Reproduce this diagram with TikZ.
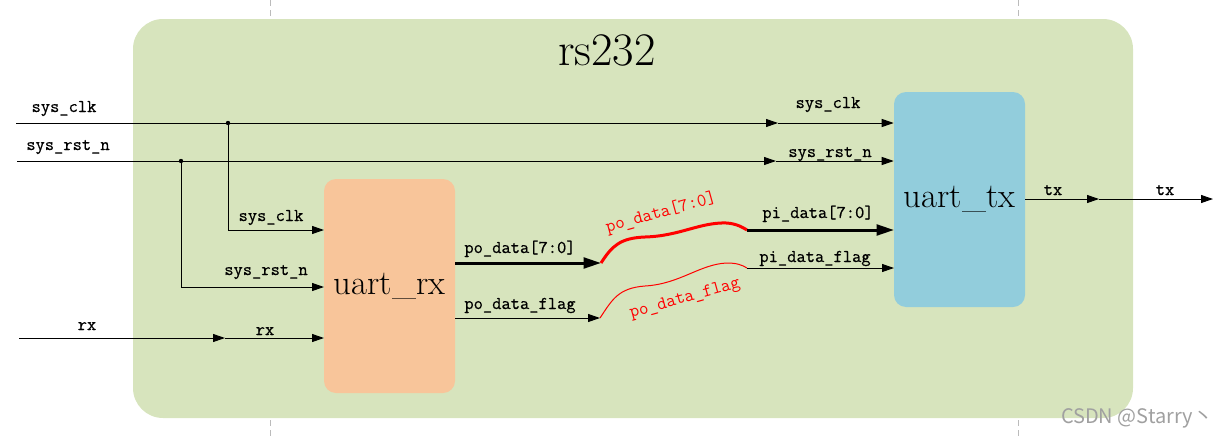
\documentclass[tikz,border=0pt]{standalone}
\usepackage{fontspec}
\usetikzlibrary{arrows.meta}
\newfontfamily\wmfont{Noto Sans CJK SC}
\newfontfamily\labfont{Latin Modern Mono}[RawFeature={embolden=0.6}]
\newfontfamily\rlabfont{Latin Modern Mono}
\definecolor{bggreen}{HTML}{D7E4BD}
\definecolor{rxorange}{HTML}{F8C59A}
\definecolor{txblue}{HTML}{92CDDC}
\definecolor{dashgrey}{HTML}{BBBBBB}
\definecolor{wmgrey}{HTML}{A0A0A0}
\begin{document}
\begin{tikzpicture}[x=0.75pt,y=-0.75pt,
  sig/.style={line width=0.75pt,-{Triangle[length=9pt,width=6pt]}},
  wire/.style={line width=0.75pt},
  bus/.style={line width=2.25pt,-{Triangle[length=13pt,width=8pt]}},
  lab/.style={font=\fontsize{13.5}{14}\selectfont\labfont,anchor=base,inner sep=0pt},
  rlab/.style={font=\fontsize{13.8}{14}\selectfont\rlabfont,inner sep=0pt,text=red,anchor=center},
  module/.style={inner sep=0pt,rounded corners=9pt,minimum width=98.25pt},
  big/.style={font=\fontsize{26}{28}\selectfont}
]
\useasboundingbox (0,0) rectangle (1223,439);
% dashed guide lines
\draw[dashgrey,line width=0.75pt,dash pattern=on 4.5pt off 3pt] (270,0) -- (270,439);
\draw[dashgrey,line width=0.75pt,dash pattern=on 4.5pt off 3pt] (1018,0) -- (1018,439);
% container
\node[fill=bggreen,inner sep=0pt,rounded corners=22.5pt,minimum width=750pt,minimum height=299.25pt] (top) at (633,218.5) {};
\node[font=\fontsize{35}{38}\selectfont] (title) at (607,50) {rs232};
% modules
\node[module,fill=rxorange,minimum height=160.5pt,big] (rx) at (389.5,286) {uart\_rx};
\node[module,fill=txblue,minimum height=161.25pt,big] (tx) at (959.5,199.5) {uart\_tx};
% coordinates
\coordinate (clkin) at (16,123);
\coordinate (clkdot) at (228,123);
\coordinate (clkmid) at (778,123);
\coordinate (rstin) at (17,161);
\coordinate (rstdot) at (181,161);
\coordinate (rstmid) at (776,161);
\coordinate (rxclk) at (324,230);
\coordinate (rxrst) at (324,287);
\coordinate (rxin) at (19,338);
\coordinate (rxmid) at (225,338);
\coordinate (rxrx) at (324,338);
\coordinate (dout) at (455,263);
\coordinate (dA) at (601,263);
\coordinate (dB) at (747,230);
\coordinate (din) at (894,230);
\coordinate (fout) at (455,318);
\coordinate (fA) at (600,318);
\coordinate (fB) at (747,268);
\coordinate (fin) at (894,268);
\coordinate (txo) at (1025,199);
\coordinate (txmid) at (1099,199);
\coordinate (txend) at (1213,199);
% sys_clk
\draw[sig] (clkin) -- (clkmid);
\draw[sig] (clkmid) -- (clkmid -| tx.west);
\draw[sig] (clkdot) |- (rxclk);
\fill (clkdot) circle (2.2);
% sys_rst_n
\draw[sig] (rstin) -- (rstmid);
\draw[sig] (rstmid) -- (rstmid -| tx.west);
\draw[sig] (rstdot) |- (rxrst);
\fill (rstdot) circle (2.2);
% rx
\draw[sig] (rxin) -- (rxmid);
\draw[sig] (rxmid) -- (rxrx);
% data
\draw[bus] (dout) -- (dA);
\draw[red,line width=2.25pt] (dA) .. controls (612,246) and (620,238) .. (645,237)
   .. controls (680,236) and (700,222) .. (727,223) .. controls (737,224) and (742,227) .. (dB);
\draw[bus] (dB) -- (din);
% flag
\draw[sig] (fout) -- (fA);
\draw[red,line width=0.75pt] (fA) .. controls (612,300) and (618,288) .. (645,286)
   .. controls (680,284) and (700,264) .. (727,263) .. controls (737,263) and (742,265) .. (fB);
\draw[sig] (fB) -- (fin);
% tx
\draw[sig] (txo) -- (txmid);
\draw[sig] (txmid) -- (txend);
% labels
\node[lab] (l1) at (64,112) {sys\_clk};
\node[lab] (l2) at (68,150) {sys\_rst\_n};
\node[lab] (l3) at (828,108) {sys\_clk};
\node[lab] (l4) at (830,157) {sys\_rst\_n};
\node[lab] (l5) at (271,221) {sys\_clk};
\node[lab] (l6) at (266,275) {sys\_rst\_n};
\node[lab] (l7) at (87,330) {rx};
\node[lab] (l8) at (265,335) {rx};
\node[lab] (l9) at (520,253) {po\_data[7:0]};
\node[lab] (l10) at (520,309) {po\_data\_flag};
\node[lab] (l11) at (818,218) {pi\_data[7:0]};
\node[lab] (l12) at (815,262) {pi\_data\_flag};
\node[lab] (l13) at (1053,195) {tx};
\node[lab] (l14) at (1165,195) {tx};
\node[rlab,rotate=15.5] (r1) at (661,213) {po\_data[7:0]};
\node[rlab,rotate=15.5] (r2) at (685,299) {po\_data\_flag};
% watermark
\node[font=\fontsize{15}{16}\selectfont\wmfont,text=wmgrey,inner sep=0pt] (wm) at (1137,418) {CSDN @Starry丶};
\end{tikzpicture}
\end{document}
